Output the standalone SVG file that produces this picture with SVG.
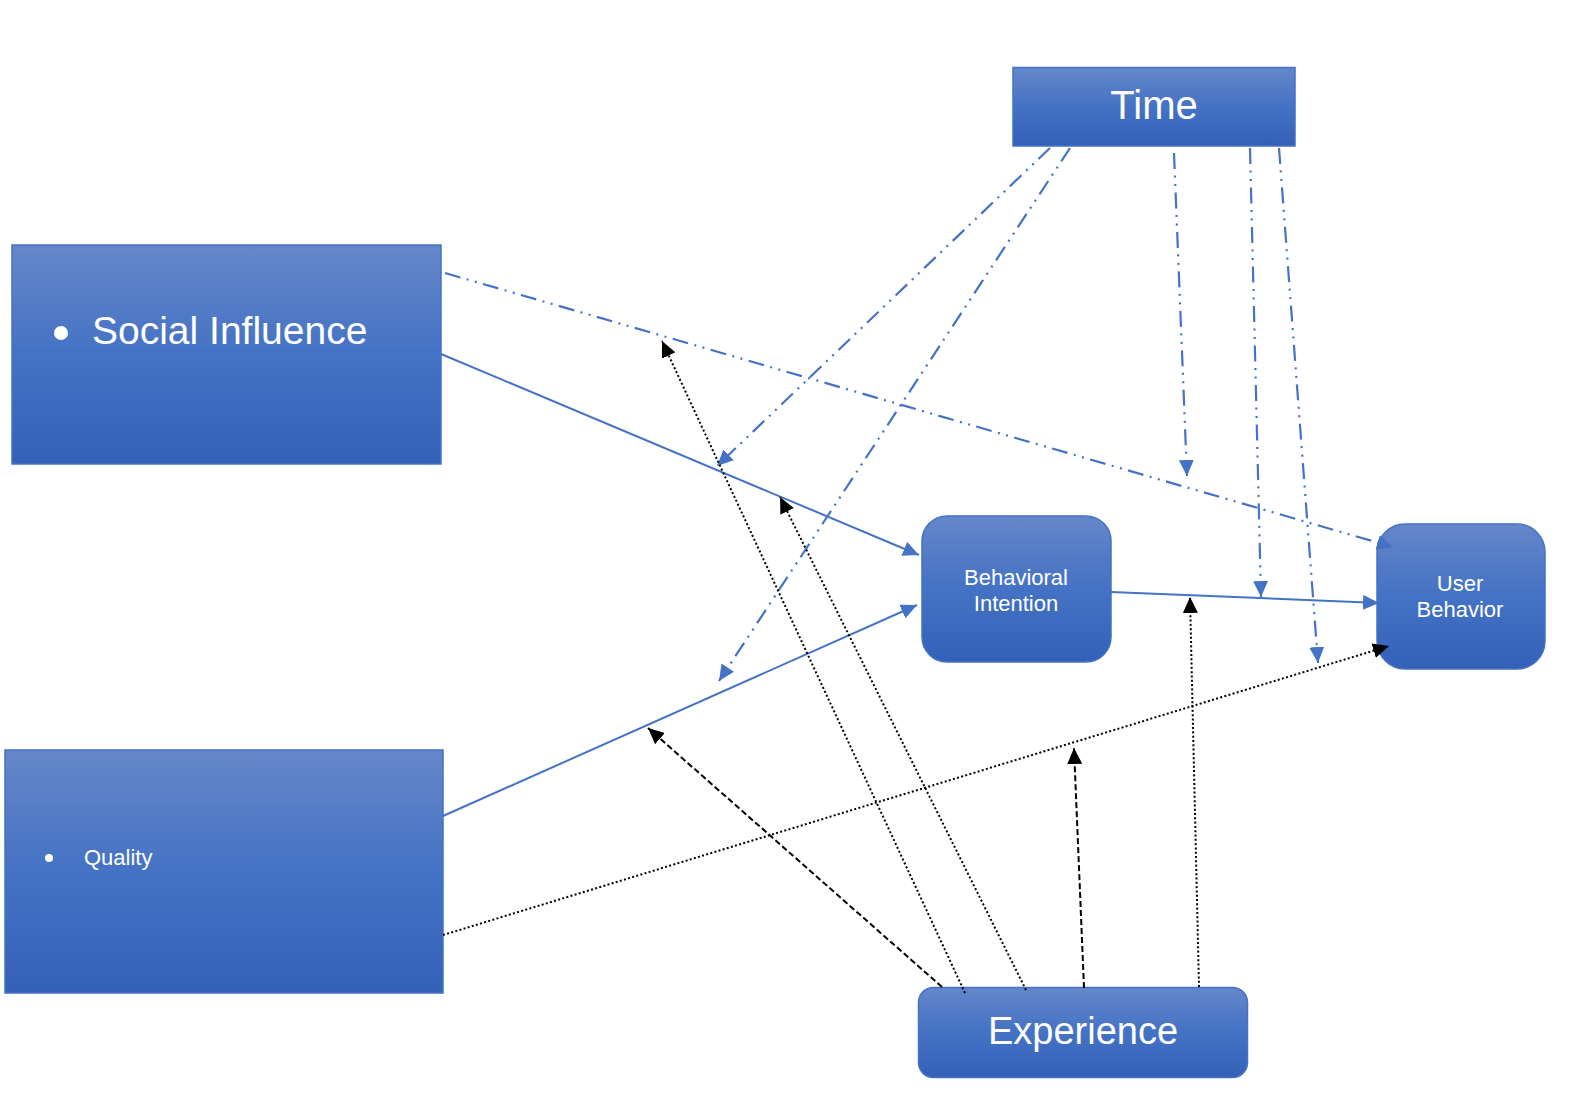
<svg xmlns="http://www.w3.org/2000/svg" width="1580" height="1094" viewBox="0 0 1580 1094">
<defs>
<linearGradient id="g" x1="0" y1="0" x2="0" y2="1">
<stop offset="0" stop-color="#6587ca"/>
<stop offset="0.5" stop-color="#4472c4"/>
<stop offset="1" stop-color="#3461b8"/>
</linearGradient>
<marker id="ab" markerUnits="userSpaceOnUse" markerWidth="17" markerHeight="15" refX="16" refY="7.5" orient="auto">
<path d="M0,0 L16,7.5 L0,15 z" fill="#4472c4"/>
</marker>
<marker id="ak" markerUnits="userSpaceOnUse" markerWidth="17" markerHeight="15" refX="16" refY="7.5" orient="auto">
<path d="M0,0 L16,7.5 L0,15 z" fill="#000"/>
</marker>
</defs>
<style>
.box{fill:url(#g);stroke:#4472c4;stroke-width:1.5}
.t{fill:#fff;font-family:"Liberation Sans",Arial,Helvetica,sans-serif}
.solid{stroke:#4472c4;stroke-width:2;fill:none;marker-end:url(#ab)}
.dd{stroke:#4472c4;stroke-width:2.2;fill:none;stroke-dasharray:16 6.5 2 6.5 2 6.5;marker-end:url(#ab)}
.dot{stroke:#000;stroke-width:2;fill:none;stroke-dasharray:2 2.3;marker-end:url(#ak)}
.dash{stroke:#000;stroke-width:2;fill:none;stroke-dasharray:6 3;marker-end:url(#ak)}
</style>
<rect width="1580" height="1094" fill="#fff"/>
<g id="time">
<rect class="box" x="1013" y="67.5" width="282" height="78.5"/>
<text class="t" x="1154" y="119" font-size="40" text-anchor="middle">Time</text>
</g>
<g id="social-influence">
<rect class="box" x="12" y="245" width="429" height="219"/>
<circle cx="61" cy="333" r="7" fill="#fff"/>
<text class="t" x="92" y="344" font-size="39">Social Influence</text>
</g>
<g id="quality">
<rect class="box" x="5" y="750" width="438" height="243"/>
<circle cx="49" cy="858" r="4" fill="#fff"/>
<text class="t" x="84" y="865" font-size="22">Quality</text>
</g>
<g id="behavioral-intention">
<rect class="box" x="922" y="516" width="189" height="146" rx="25" ry="25"/>
<text class="t" x="1016" y="585" font-size="22" text-anchor="middle">Behavioral</text>
<text class="t" x="1016" y="611" font-size="22" text-anchor="middle">Intention</text>
</g>
<g id="user-behavior">
<rect class="box" x="1377" y="524" width="168" height="145" rx="28" ry="28"/>
<text class="t" x="1460" y="591" font-size="22" text-anchor="middle">User</text>
<text class="t" x="1460" y="617" font-size="22" text-anchor="middle">Behavior</text>
</g>
<g id="experience">
<rect class="box" x="918.5" y="987.5" width="329" height="90" rx="15" ry="15"/>
<text class="t" x="1083" y="1044" font-size="38" text-anchor="middle">Experience</text>
</g>
<g id="connectors">
<line class="solid" x1="441" y1="354" x2="919" y2="555"/>
<line class="solid" x1="443" y1="816" x2="917" y2="605"/>
<line class="solid" x1="1111" y1="592" x2="1379" y2="603"/>
<line class="dd" x1="445" y1="273" x2="1393" y2="547"/>
<line class="dd" x1="1050" y1="148" x2="717" y2="466"/>
<line class="dd" x1="1070" y1="148" x2="719" y2="681"/>
<line class="dd" x1="1174" y1="153" x2="1187" y2="476"/>
<line class="dd" x1="1250" y1="148" x2="1261" y2="597"/>
<line class="dd" x1="1279" y1="148" x2="1318" y2="663"/>
<line class="dot" x1="965" y1="993" x2="662" y2="341"/>
<line class="dot" x1="1026" y1="990" x2="780" y2="497"/>
<line class="dash" x1="942" y1="987" x2="648" y2="728"/>
<line class="dash" x1="1084" y1="988" x2="1074" y2="748"/>
<line class="dot" x1="1199" y1="987" x2="1190" y2="597"/>
<line class="dot" x1="443" y1="935" x2="1389" y2="646"/>
</g>
</svg>
